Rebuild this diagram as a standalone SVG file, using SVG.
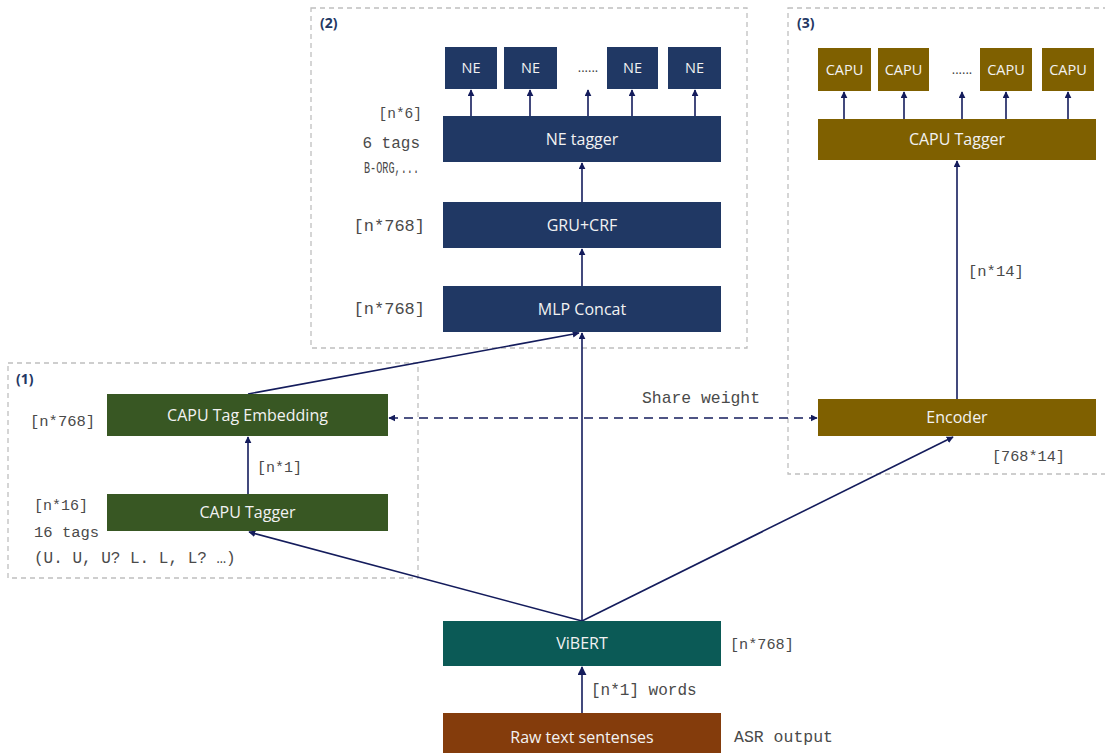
<svg xmlns="http://www.w3.org/2000/svg" width="1105" height="753" viewBox="0 0 1105 753">
<style>
.grp{fill:none;stroke:#bfbfbf;stroke-width:1.3;stroke-dasharray:5 4}
.navy{fill:#203864}
.green{fill:#385723}
.olive{fill:#7f6000}
.teal{fill:#0b5a56}
.brown{fill:#843c0c}
.bt{font-family:"Open Sans","Noto Sans",sans-serif;font-size:16px;fill:#f2f2f2;text-anchor:middle}
.st{font-family:"Open Sans","Noto Sans",sans-serif;font-size:14.5px;fill:#f2f2f2;text-anchor:middle}
.num{font-family:"Open Sans","Noto Sans",sans-serif;font-size:14px;font-weight:bold;fill:#1f3864}
.mono{font-family:"Liberation Mono","Courier New",monospace;font-size:15.5px;fill:#4a4a4a}
.dots{font-family:"Open Sans",sans-serif;font-size:13px;fill:#404040;text-anchor:middle}
.ln{fill:none;stroke:#141c5c;stroke-width:1.6}
</style>
<defs>
<marker id="ah" viewBox="0 0 10 10" refX="9" refY="5" markerWidth="7" markerHeight="7" orient="auto-start-reverse" markerUnits="userSpaceOnUse">
<path d="M0,0 L10,5 L0,10 Z" fill="#141c5c"/>
</marker>
<marker id="ahb" viewBox="0 0 10 10" refX="9" refY="5" markerWidth="9" markerHeight="9" orient="auto" markerUnits="userSpaceOnUse">
<path d="M0,0 L10,5 L0,10 Z" fill="#141c5c"/>
</marker>
</defs>
<rect width="1105" height="753" fill="#ffffff"/>

<g id="group-2">
<rect class="grp" x="311" y="8" width="436" height="340"/>
<text class="num" x="320" y="28">(2)</text>
</g>
<g id="group-1">
<rect class="grp" x="8" y="363" width="410" height="215"/>
<text class="num" x="16" y="384">(1)</text>
</g>
<g id="group-3">
<rect class="grp" x="788" y="8" width="340" height="466"/>
<text class="num" x="797" y="28">(3)</text>
</g>

<g id="connectors">
<line class="ln" x1="471" y1="116" x2="471" y2="90" marker-end="url(#ah)"/>
<line class="ln" x1="530" y1="116" x2="530" y2="90" marker-end="url(#ah)"/>
<line class="ln" x1="588" y1="116" x2="588" y2="90" marker-end="url(#ah)"/>
<line class="ln" x1="632" y1="116" x2="632" y2="90" marker-end="url(#ah)"/>
<line class="ln" x1="695" y1="116" x2="695" y2="90" marker-end="url(#ah)"/>
<line class="ln" x1="582" y1="202" x2="582" y2="163" marker-end="url(#ah)"/>
<line class="ln" x1="582" y1="286" x2="582" y2="249" marker-end="url(#ah)"/>
<line class="ln" x1="844" y1="119" x2="844" y2="92" marker-end="url(#ah)"/>
<line class="ln" x1="904" y1="119" x2="904" y2="92" marker-end="url(#ah)"/>
<line class="ln" x1="962" y1="119" x2="962" y2="92" marker-end="url(#ah)"/>
<line class="ln" x1="1006" y1="119" x2="1006" y2="92" marker-end="url(#ah)"/>
<line class="ln" x1="1068" y1="119" x2="1068" y2="92" marker-end="url(#ah)"/>
<line class="ln" x1="957" y1="399" x2="957" y2="161" marker-end="url(#ah)"/>
<line class="ln" x1="248" y1="494" x2="248" y2="437" marker-end="url(#ah)"/>
<line class="ln" x1="248" y1="394" x2="579" y2="333" marker-end="url(#ah)"/>
<line class="ln" x1="582" y1="621" x2="582" y2="333" marker-end="url(#ah)"/>
<line class="ln" x1="582" y1="621" x2="249" y2="532" marker-end="url(#ah)"/>
<line class="ln" x1="582" y1="621" x2="953" y2="437" marker-end="url(#ah)"/>
<line class="ln" x1="389" y1="418" x2="817" y2="418" stroke-dasharray="9 6" marker-start="url(#ah)" marker-end="url(#ah)"/>
<line class="ln" x1="582" y1="713" x2="582" y2="667" stroke-width="2.6" marker-end="url(#ahb)"/>
</g>

<g id="ne-1"><rect class="navy" x="445" y="47" width="52" height="42"/><text class="st" x="471" y="73">NE</text></g>
<g id="ne-2"><rect class="navy" x="504" y="47" width="53" height="42"/><text class="st" x="530.5" y="73">NE</text></g>
<text class="dots" x="588" y="72">......</text>
<g id="ne-3"><rect class="navy" x="607" y="47" width="51" height="42"/><text class="st" x="632.5" y="73">NE</text></g>
<g id="ne-4"><rect class="navy" x="668" y="47" width="53" height="42"/><text class="st" x="694.5" y="73">NE</text></g>

<g id="ne-tagger"><rect class="navy" x="443" y="116" width="278" height="46"/><text class="bt" x="582" y="145">NE tagger</text></g>
<g id="gru-crf"><rect class="navy" x="443" y="202" width="278" height="46"/><text class="bt" x="582" y="231">GRU+CRF</text></g>
<g id="mlp-concat"><rect class="navy" x="443" y="286" width="278" height="46"/><text class="bt" x="582" y="315">MLP Concat</text></g>

<text class="mono" x="422" y="118" text-anchor="end" style="font-size:14.5px">[n*6]</text>
<text class="mono" x="420" y="148" text-anchor="end" style="font-size:16px">6 tags</text>
<text class="mono" x="364" y="173" textLength="55" lengthAdjust="spacingAndGlyphs" style="font-size:16px">B-ORG,...</text>
<text class="mono" x="425" y="231" text-anchor="end" style="font-size:17px">[n*768]</text>
<text class="mono" x="425" y="314" text-anchor="end" style="font-size:17px">[n*768]</text>

<g id="capu-1"><rect class="olive" x="818" y="48" width="53" height="43"/><text class="st" x="844.5" y="75">CAPU</text></g>
<g id="capu-2"><rect class="olive" x="878" y="48" width="51" height="43"/><text class="st" x="903.5" y="75">CAPU</text></g>
<text class="dots" x="962" y="74">......</text>
<g id="capu-3"><rect class="olive" x="980" y="48" width="52" height="43"/><text class="st" x="1006" y="75">CAPU</text></g>
<g id="capu-4"><rect class="olive" x="1042" y="48" width="52" height="43"/><text class="st" x="1068" y="75">CAPU</text></g>

<g id="capu-tagger-3"><rect class="olive" x="818" y="119" width="278" height="41"/><text class="bt" x="957" y="145">CAPU Tagger</text></g>
<text class="mono" x="968" y="276">[n*14]</text>
<g id="encoder"><rect class="olive" x="818" y="399" width="278" height="37"/><text class="bt" x="957" y="423">Encoder</text></g>
<text class="mono" x="992" y="461" style="font-size:15.2px">[768*14]</text>
<text class="mono" x="642" y="403" style="font-size:16.4px">Share weight</text>

<g id="capu-tag-embedding"><rect class="green" x="107" y="394" width="281" height="42"/><text class="bt" x="247.5" y="421">CAPU Tag Embedding</text></g>
<g id="capu-tagger-1"><rect class="green" x="107" y="494" width="281" height="37"/><text class="bt" x="247.5" y="518">CAPU Tagger</text></g>
<text class="mono" x="30" y="426">[n*768]</text>
<text class="mono" x="257" y="472" style="font-size:15px">[n*1]</text>
<text class="mono" x="34" y="510" style="font-size:15px">[n*16]</text>
<text class="mono" x="34" y="537">16 tags</text>
<text class="mono" x="34" y="563" style="font-size:16px">(U. U, U? L. L, L? …)</text>

<g id="vibert"><rect class="teal" x="443" y="621" width="278" height="45"/><text class="bt" x="582" y="649">ViBERT</text></g>
<text class="mono" x="730" y="649" style="font-size:15.2px">[n*768]</text>
<text class="mono" x="591" y="695" style="font-size:16px">[n*1] words</text>
<g id="raw-text"><rect class="brown" x="443" y="713" width="278" height="45"/><text class="bt" x="582" y="743">Raw text sentenses</text></g>
<text class="mono" x="734" y="742" style="font-size:16.5px">ASR output</text>
</svg>
